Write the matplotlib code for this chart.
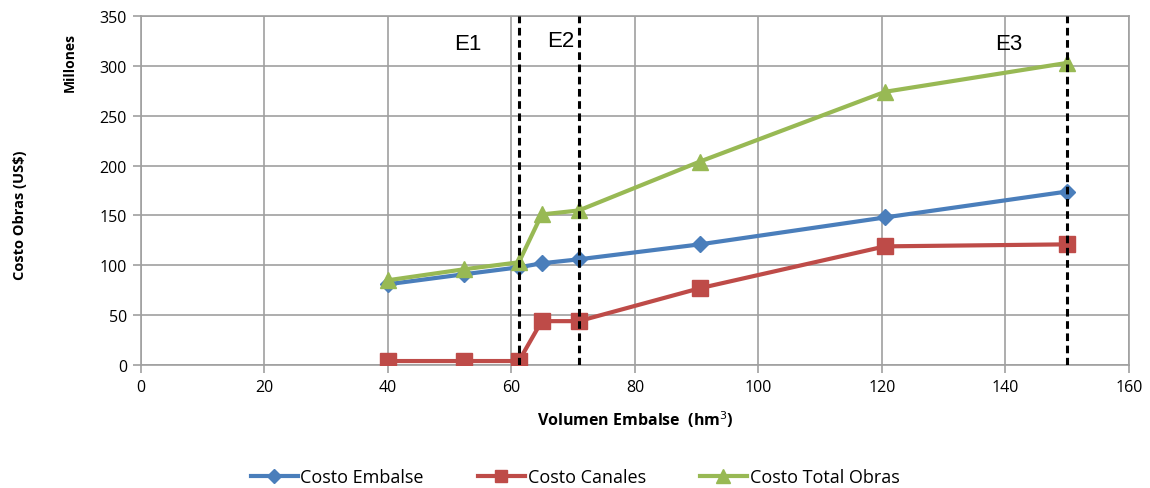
import matplotlib.pyplot as plt

volumen = [40, 52.3, 61.2, 64.9, 70.9, 90.5, 120.5, 150]
costo_embalse = [81, 91, 98, 102, 106, 121, 148, 174]
costo_canales = [4, 4, 4, 44, 44, 77, 119, 121]
costo_total = [85, 96, 103, 151, 155, 204, 274, 303]

# escenarios marcados con lineas verticales
escenarios = ["E1", "E2", "E3"]
escenario_vol = [61.2, 70.9, 150]
etiqueta_x = [53, 68, 140.5]
etiqueta_y = [322, 325, 322]

plt.rcParams['font.family'] = ['Open Sans', 'DejaVu Sans']

fig = plt.figure(figsize=(11.5, 4.89), dpi=100)
ax = fig.add_axes([0.1226, 0.2515, 0.8591, 0.7137])

grid_c = '#a0a0a0'
ax.set_xlim(0, 160)
ax.set_ylim(0, 350)
ax.set_xticks(range(0, 161, 20))
ax.set_yticks(range(0, 351, 50))
ax.grid(True, color=grid_c, linewidth=1.2)
ax.set_axisbelow(True)
for s in ax.spines.values():
    s.set_color(grid_c)
    s.set_linewidth(1.2)
ax.tick_params(direction='out', length=6, color=grid_c, width=1.2,
               labelsize=11.5, pad=4)

ax.plot(volumen, costo_embalse, color='#4A7EBB', lw=3, marker='D',
        ms=8, label='Costo Embalse', zorder=3)
ax.plot(volumen, costo_canales, color='#BE4B48', lw=3, marker='s',
        ms=11, label='Costo Canales', zorder=3)
ax.plot(volumen, costo_total, color='#98B954', lw=3, marker='^',
        ms=12, label='Costo Total Obras', zorder=3)

for v in escenario_vol:
    ax.axvline(v, color='black', lw=2.2, linestyle=(0, (2.5, 1.5)), zorder=4)
for nombre, xx, yy in zip(escenarios, etiqueta_x, etiqueta_y):
    ax.text(xx, yy, nombre, fontsize=16, family='Liberation Sans',
            ha='center', va='center')

ax.set_xlabel('Volumen Embalse  (hm$^3$)', fontsize=11.5, fontweight='bold',
              labelpad=10)
fig.text(0.017, 0.56, 'Costo Obras (US$)', rotation=90, fontsize=10.5,
         fontweight='bold', ha='center', va='center')
fig.text(0.061, 0.873, 'Millones', rotation=90, fontsize=10,
         fontweight='bold', ha='center', va='center')

fig.legend(loc='center', bbox_to_anchor=(0.5, 0.022), ncol=3, frameon=False,
           fontsize=13, handlelength=2.6, columnspacing=3.0,
           handletextpad=0.15, markerscale=0.85)

fig.savefig('out.png', dpi=100)
